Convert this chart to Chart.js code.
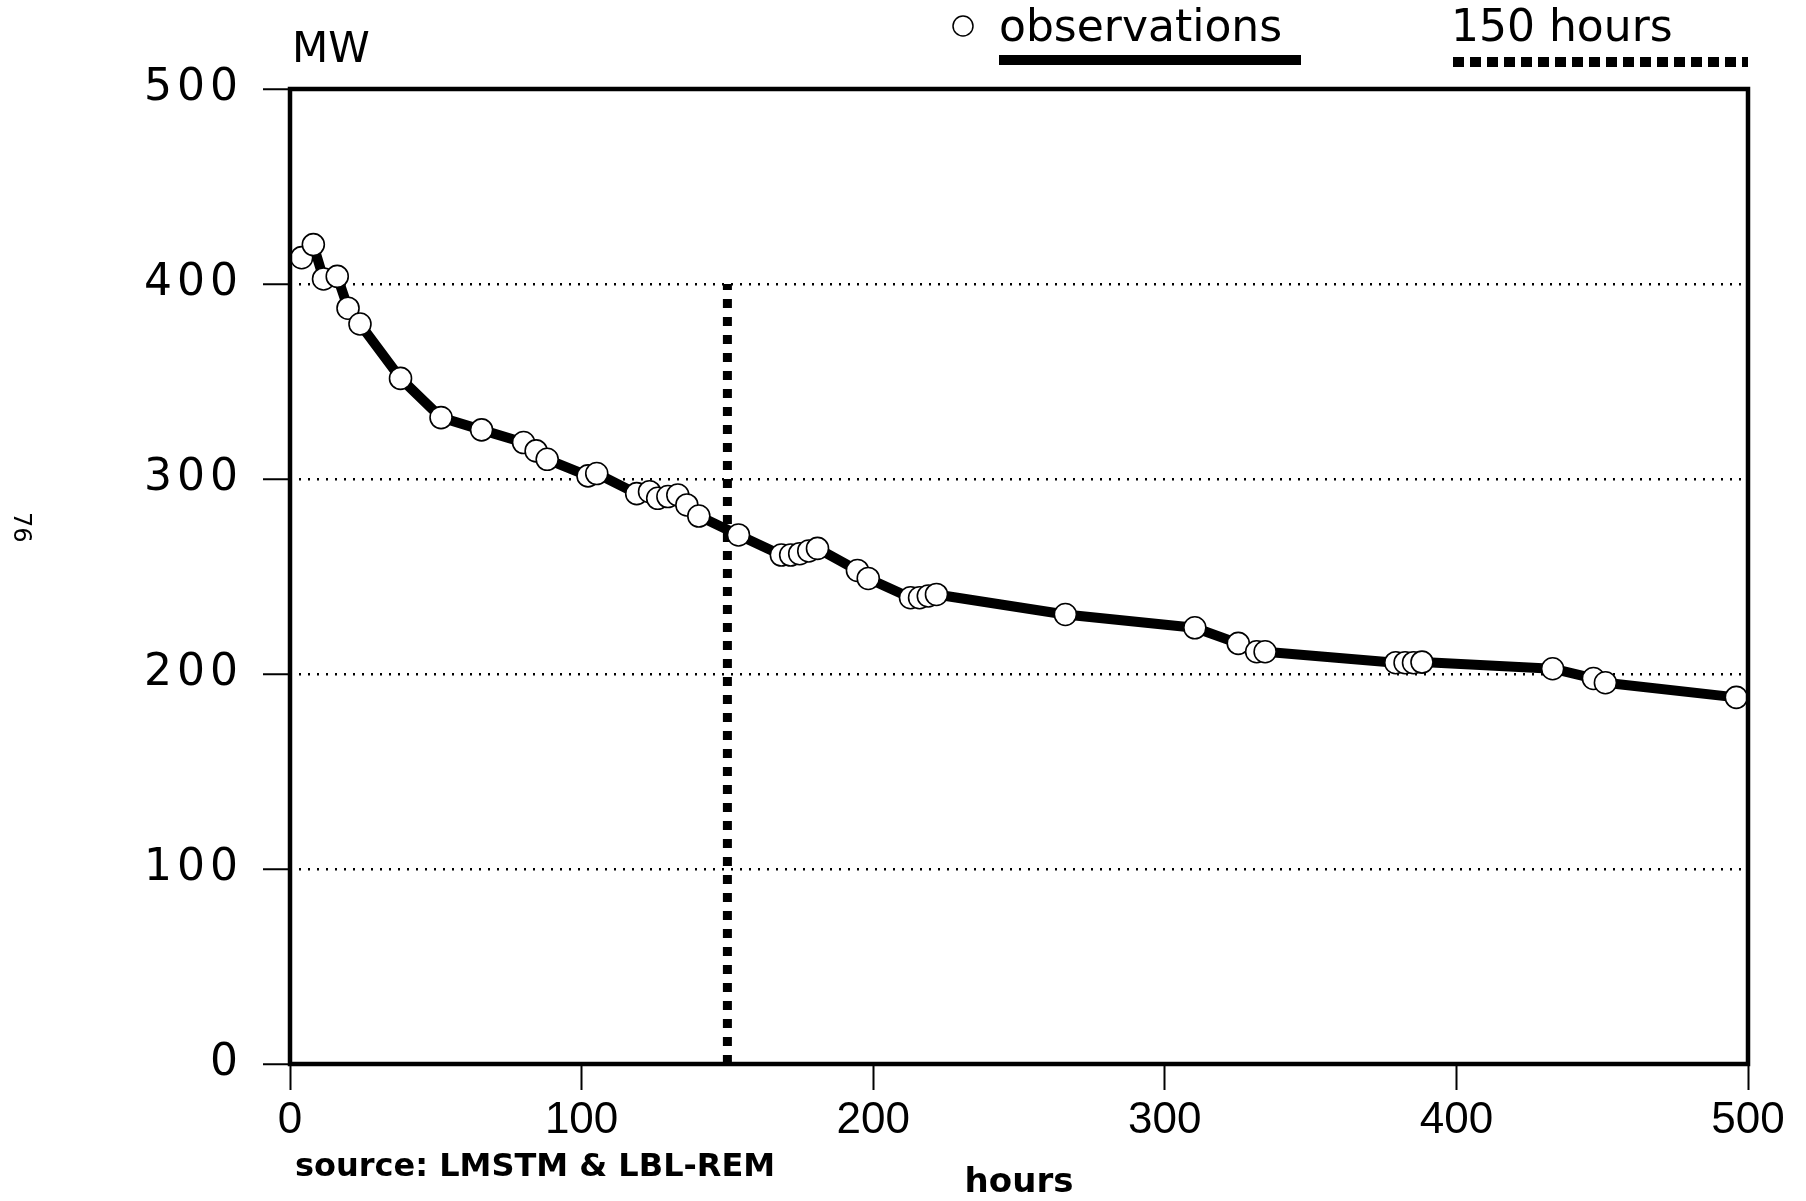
<!DOCTYPE html>
<html>
<head>
<meta charset="utf-8">
<title>MW vs hours</title>
<script src="https://cdn.jsdelivr.net/npm/chart.js@4.4.1/dist/chart.umd.min.js"></script>
<style>
  html, body { margin: 0; padding: 0; background: #ffffff; }
  #wrap { width: 1806px; height: 1201px; position: relative; }
</style>
</head>
<body>
<div id="wrap"><canvas id="mwChart"></canvas></div>
<script>
// ================================
// DATA
// ================================
const hours = [
  4.0, 8.0, 11.5, 16.2, 19.9, 24.0, 37.9, 51.8, 65.7, 80.1,
  84.4, 88.2, 102.2, 105.2, 118.9, 123.3, 126.1, 129.6, 133.0, 136.1,
  140.2, 153.8, 168.5, 171.7, 174.8, 177.9, 180.9, 194.6, 198.3, 212.8,
  215.9, 218.9, 221.7, 265.9, 310.3, 325.2, 331.5, 334.4, 379.2, 382.4,
  385.3, 388.2, 433.0, 447.0, 451.1, 496.0
];
const megawatts = [
  413.5, 420.2, 402.6, 403.9, 387.6, 379.5, 351.6, 331.5, 325.2, 318.7,
  314.4, 310.1, 301.6, 302.8, 292.5, 293.5, 290.1, 291.0, 291.8, 286.7,
  281.0, 271.3, 261.0, 261.0, 261.7, 263.1, 264.4, 253.1, 249.0, 239.1,
  239.1, 240.0, 240.8, 230.5, 223.7, 215.7, 211.4, 211.4, 205.8, 205.8,
  205.8, 206.1, 202.7, 197.7, 195.5, 188.0
];
const cutoffHours = [150, 150];
const cutoffMW = [0, 400];
const legendLabels = ["observations", "150 hours"];
const yUnit = "MW";
const xTitle = "hours";
const sourceNote = "source: LMSTM & LBL-REM";
const pageNumber = "76";

// ================================
// GLOBAL SETTINGS
// ================================
Chart.defaults.color = "#000000";
Chart.defaults.font.family = "DejaVu Sans";

// y tick labels are set wide in the original, add a little tracking
const spacedYLabels = {
  id: "spacedYLabels",
  beforeDraw(chart) {
    const y = chart.scales.y;
    if (y && !y._spaced) {
      const orig = y.drawLabels;
      y.drawLabels = function (area) {
        this.ctx.save();
        this.ctx.letterSpacing = "5px";
        orig.call(this, area);
        this.ctx.restore();
      };
      y._spaced = true;
    }
  }
};

// frame round the plot area
const plotFrame = {
  id: "plotFrame",
  afterDatasetsDraw(chart) {
    const { ctx, chartArea: a } = chart;
    ctx.save();
    ctx.strokeStyle = "#000";
    ctx.lineWidth = 4.5;
    ctx.strokeRect(a.left, a.top, a.right - a.left, a.bottom - a.top);
    ctx.restore();
  }
};

// legend, unit label, source note
const annotations = {
  id: "annotations",
  afterDraw(chart) {
    const { ctx, chartArea: a } = chart;
    ctx.save();
    ctx.fillStyle = "#000";
    ctx.strokeStyle = "#000";

    // unit
    ctx.font = "42px 'DejaVu Sans'";
    ctx.textBaseline = "alphabetic";
    ctx.textAlign = "left";
    ctx.fillText(yUnit, a.left + 2, 62);

    // legend: observations
    ctx.lineWidth = 1.5;
    ctx.beginPath();
    ctx.arc(963, 26, 10, 0, Math.PI * 2);
    ctx.fillStyle = "#fff";
    ctx.fill();
    ctx.stroke();
    ctx.fillStyle = "#000";
    ctx.font = "44px 'DejaVu Sans'";
    ctx.fillText(legendLabels[0], 999, 41);
    ctx.lineWidth = 10;
    ctx.beginPath();
    ctx.moveTo(999, 60);
    ctx.lineTo(1301, 60);
    ctx.stroke();

    // legend: 150 hours
    ctx.fillText(legendLabels[1], 1451, 41);
    ctx.setLineDash([11, 6]);
    ctx.beginPath();
    ctx.moveTo(1453, 62);
    ctx.lineTo(a.right, 62);
    ctx.stroke();
    ctx.setLineDash([]);

    // source
    ctx.font = "bold 32px 'DejaVu Sans'";
    ctx.fillText(sourceNote, 295, 1176);

    // page number, printed sideways
    ctx.font = "24px 'DejaVu Sans'";
    ctx.translate(14, 512);
    ctx.rotate(Math.PI / 2);
    ctx.fillText(pageNumber, 0, 0);
    ctx.restore();
  }
};

// ================================
// MW vs HOURS (LINE)
// ================================
const obsPoints = hours.map((h, i) => ({ x: h, y: megawatts[i] }));
const cutoffPoints = cutoffHours.map((h, i) => ({ x: h, y: cutoffMW[i] }));

new Chart(document.getElementById("mwChart"), {
  type: "line",
  data: {
    datasets: [
      {
        label: legendLabels[0],
        data: obsPoints,
        borderColor: "#000",
        borderWidth: 10,
        borderJoinStyle: "round",
        tension: 0,
        pointRadius: 11,
        pointBorderWidth: 1.6,
        pointBorderColor: "#000",
        pointBackgroundColor: "#fff",
        pointHoverRadius: 11
      },
      {
        label: legendLabels[1],
        data: cutoffPoints,
        borderColor: "#000",
        borderWidth: 9,
        borderDash: [9, 9],
        borderCapStyle: "butt",
        pointRadius: 0,
        pointHoverRadius: 0
      }
    ]
  },
  options: {
    responsive: true,
    maintainAspectRatio: false,
    animation: false,
    layout: { padding: { left: 0, right: 58, top: 89, bottom: 0 } },
    plugins: {
      legend: { display: false },
      tooltip: { enabled: false }
    },
    scales: {
      x: {
        type: "linear",
        min: 0,
        max: 500,
        afterFit(scale) { scale.height = 137; },
        ticks: {
          stepSize: 100,
          padding: 4,
          maxRotation: 0,
          font: { family: "Liberation Sans", size: 44 }
        },
        grid: {
          drawOnChartArea: false,
          drawTicks: true,
          tickLength: 26,
          tickWidth: 2,
          tickColor: "#000"
        },
        border: { display: false },
        title: {
          display: true,
          text: xTitle,
          font: { size: 34, weight: "bold" },
          padding: { top: 0, bottom: -3 }
        }
      },
      y: {
        min: 0,
        max: 500,
        afterFit(scale) { scale.width = 290; },
        ticks: {
          stepSize: 100,
          padding: 20,
          font: { size: 44 }
        },
        grid: {
          color: "#000",
          lineWidth: 2.5,
          tickLength: 27,
          tickWidth: 2,
          tickColor: "#000"
        },
        border: { display: false, dash: [2, 7] }
      }
    }
  },
  plugins: [spacedYLabels, plotFrame, annotations]
});
</script>
</body>
</html>
